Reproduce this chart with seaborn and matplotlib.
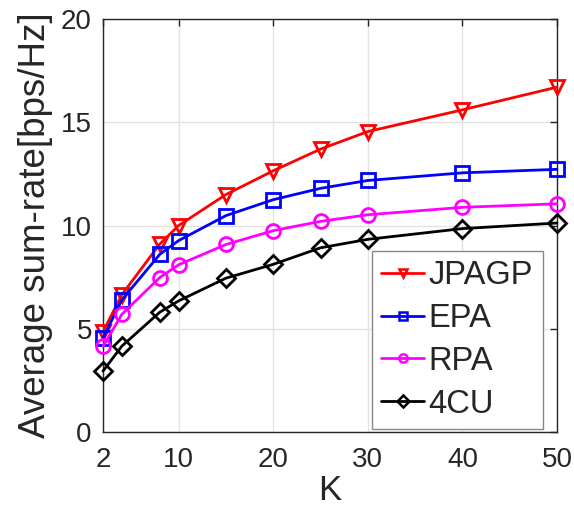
import seaborn as sns
import matplotlib.pyplot as plt
import pandas as pd
import numpy as np

# number of users K
K = [2, 4, 8, 10, 15, 20, 25, 30, 40, 50]

# average sum-rate per scheme (bps/Hz)
jpagp = [4.85, 6.65, 9.1, 10.0, 11.5, 12.65, 13.7, 14.55, 15.6, 16.7]
epa = [4.55, 6.4, 8.6, 9.27, 10.48, 11.25, 11.8, 12.18, 12.55, 12.72]
rpa = [4.15, 5.7, 7.48, 8.1, 9.08, 9.75, 10.2, 10.52, 10.88, 11.05]
cu4 = [2.95, 4.16, 5.8, 6.35, 7.45, 8.12, 8.92, 9.33, 9.85, 10.12]

names = ['JPAGP', 'EPA', 'RPA', '4CU']
series = [jpagp, epa, rpa, cu4]
colors = ['#ff0000', '#0000ff', '#ff00ff', '#000000']
markers = ['v', 's', 'o', 'D']

sns.set_style('white')
plt.rcParams['font.family'] = ['Liberation Sans', 'DejaVu Sans']

fig = plt.figure(figsize=(5.74, 5.08), dpi=100)
ax = fig.add_axes([0.1794, 0.1496, 0.791, 0.813])

for name, vals, c, m in zip(names, series, colors, markers):
    df = pd.DataFrame({'K': K, 'rate': vals})
    sns.lineplot(data=df, x='K', y='rate', ax=ax, color=c, marker=m,
                 markersize=10 if m != 'D' else 9, markerfacecolor='none',
                 markeredgecolor=c, markeredgewidth=2, linewidth=2,
                 label=name, clip_on=False, zorder=3)

ax.set_xlim(2, 50)
ax.set_ylim(0, 20)
ax.set_xticks([2, 10, 20, 30, 40, 50])
ax.set_yticks([0, 5, 10, 15, 20])
ax.grid(True, color='#e3e3e3', linewidth=1)
ax.set_axisbelow(True)
for s in ax.spines.values():
    s.set_visible(True)
    s.set_color('#262626')
    s.set_linewidth(1)
ax.tick_params(direction='in', length=5, colors='#262626', labelsize=20,
               top=True, right=True, width=1)
ax.tick_params(axis='x', pad=11)
ax.tick_params(axis='y', pad=8)
ax.set_xlabel('K', fontsize=25, color='#262626', labelpad=0.5)
ax.set_ylabel('Average sum-rate[bps/Hz]', fontsize=26.5, color='#262626', labelpad=6)

leg = ax.legend(loc='lower right', bbox_to_anchor=(0.9685, 0.007), borderaxespad=0,
                fontsize=23.5, handlelength=1.3, labelspacing=0.36, handletextpad=0.15,
                borderpad=0.29, fancybox=False, framealpha=1, edgecolor='#888888')
for h in leg.legend_handles:
    h.set_markersize(6)
    h.set_markeredgewidth(1.8)

fig.savefig('out.png', dpi=100)
